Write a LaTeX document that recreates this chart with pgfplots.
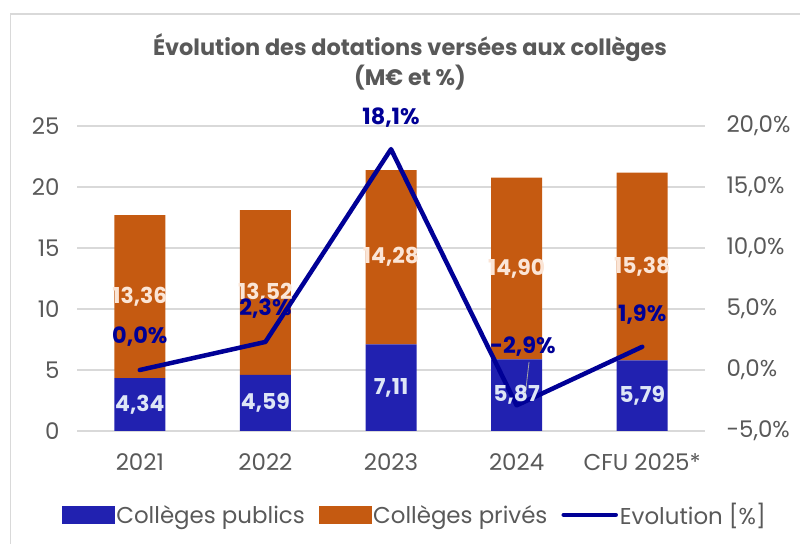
\documentclass[border=0pt]{standalone}
\usepackage{fontspec}
\setmainfont{Poppins}
\usepackage{pgfplots}
\pgfplotsset{compat=1.18}
\definecolor{bluebar}{RGB}{33,33,176}
\definecolor{orangebar}{RGB}{197,90,17}
\definecolor{linecol}{RGB}{0,0,150}
\definecolor{tickgray}{RGB}{89,89,89}
\definecolor{gridgray}{RGB}{217,217,217}
\definecolor{peach}{RGB}{251,229,214}
\definecolor{paleblue}{RGB}{222,230,246}
\begin{document}
\begin{tikzpicture}[x=1bp,y=1bp]
\useasboundingbox (0,0) rectangle (800,544);
\draw[gridgray, line width=1.5bp] (10.5,0) -- (10.5,530) -- (800,530);
\node[font=\fontsize{22.5}{27}\selectfont\bfseries, text=tickgray] at (410,496) {Évolution des dotations versées aux collèges};
\node[font=\fontsize{22.5}{27}\selectfont\bfseries, text=tickgray] at (410,466) {(M€ et \%)};
\begin{axis}[
  at={(77bp,113bp)}, anchor=south west, scale only axis,
  width=628bp, height=305bp,
  xmin=-0.5, xmax=4.5, ymin=0, ymax=25,
  ybar stacked, bar width=51bp,
  axis line style={draw=none},
  ymajorgrids, grid style={color=gridgray, line width=1.5bp},
  major tick length=0pt,
  xtick={0,1,2,3,4}, xticklabels={2021,2022,2023,2024,CFU 2025*},
  ytick={0,5,10,15,20,25}, yticklabels={0,5,10,15,20,25},
  /pgf/number format/assume math mode=true,
  tick label style={font=\fontsize{23}{27}\selectfont, text=tickgray},
  yticklabel style={anchor=east, xshift=-14bp},
  xticklabel style={anchor=center, yshift=-31bp},
]
\addplot[fill=bluebar, draw=none] coordinates {(0,4.34) (1,4.59) (2,7.11) (3,5.87) (4,5.79)};
\addplot[fill=orangebar, draw=none] coordinates {(0,13.36) (1,13.52) (2,14.28) (3,14.90) (4,15.38)};
\end{axis}
\begin{axis}[
  at={(77bp,113bp)}, anchor=south west, scale only axis,
  width=628bp, height=305bp,
  xmin=-0.5, xmax=4.5, ymin=-5, ymax=20,
  clip=false,
  axis line style={draw=none},
  axis y line*=right, axis x line=none,
  major tick length=0pt,
  ytick={-5,0,5,10,15,20},
  yticklabels={{-5,0\%},{0,0\%},{5,0\%},{10,0\%},{15,0\%},{20,0\%}},
  /pgf/number format/assume math mode=true,
  tick label style={font=\fontsize{23}{27}\selectfont, text=tickgray},
  yticklabel style={anchor=west, xshift=18bp},
  legend style={at={(0.538,-0.275)}, anchor=center, draw=none, fill=none,
    font=\fontsize{23}{27}\selectfont, text=tickgray,
    /tikz/every even column/.append style={column sep=12bp},
    inner sep=0pt, cells={anchor=west}},
  legend columns=3,
]
\addlegendimage{legend image code/.code={\fill[bluebar] (0bp,-8bp) rectangle (52bp,9bp);}}
\addlegendentry{Collèges publics}
\addlegendimage{legend image code/.code={\fill[orangebar] (0bp,-8bp) rectangle (52bp,9bp);}}
\addlegendentry{Collèges privés}
\addlegendimage{legend image code/.code={\draw[linecol, line width=4.5bp, line cap=round] (3bp,0bp) -- (55bp,0bp);}}
\addlegendentry{Evolution [\%]}
\addplot[color=linecol, line width=4.5bp, line cap=round, line join=round, mark=none] coordinates {(0,0.0) (1,2.3) (2,18.1) (3,-2.9) (4,1.9)};
\draw[gray!70, line width=0.8bp] (axis cs:3.099,0.66) -- (axis cs:3.067,-2.21);
% bar value labels (percent scale = value - 5)
\begin{scope}[every node/.style={font=\fontsize{22}{26}\selectfont\bfseries}]
\node[text=paleblue] at (axis cs:0,-2.83) {4,34};
\node[text=paleblue] at (axis cs:1,-2.705) {4,59};
\node[text=paleblue] at (axis cs:2,-1.445) {7,11};
\node[text=paleblue] at (axis cs:3,-2.065) {5,87};
\node[text=paleblue] at (axis cs:4,-2.105) {5,79};
\node[text=peach] at (axis cs:0,6.02) {13,36};
\node[text=peach] at (axis cs:1,6.35) {13,52};
\node[text=peach] at (axis cs:2,9.25) {14,28};
\node[text=peach] at (axis cs:3,8.32) {14,90};
\node[text=peach] at (axis cs:4,8.48) {15,38};
\end{scope}
\begin{scope}[every node/.style={font=\fontsize{22.5}{26}\selectfont\bfseries, text=linecol}]
\node[yshift=33bp] at (axis cs:0,0.0) {0,0\%};
\node[yshift=33bp] at (axis cs:1,2.3) {2,3\%};
\node[yshift=32bp] at (axis cs:2,18.1) {18,1\%};
\node at (axis cs:3.05,1.9) {-2,9\%};
\node[yshift=32bp] at (axis cs:4,1.9) {1,9\%};
\end{scope}
\end{axis}
\end{tikzpicture}
\end{document}
